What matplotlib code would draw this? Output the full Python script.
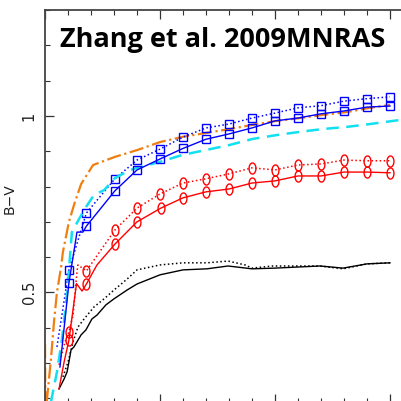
import matplotlib
matplotlib.use("Agg")
import matplotlib.pyplot as plt
from matplotlib.path import Path
from matplotlib.ticker import MultipleLocator, FixedLocator
import numpy as np

# age (x) and B-V (y) for each track
blk_x = [0.61, 0.83, 0.96, 1.04, 1.13, 1.26, 1.57, 1.78, 2.04, 2.26, 2.65, 3.0, 3.57, 4.0,
         5.0, 6.0, 7.04, 7.96, 9.0, 10.0, 10.96, 11.96, 12.96, 14.0, 15.0]
blk_y = [0.227, 0.255, 0.275, 0.303, 0.337, 0.346, 0.380, 0.394, 0.425, 0.436, 0.465, 0.482, 0.507, 0.524,
         0.550, 0.564, 0.567, 0.575, 0.567, 0.569, 0.572, 0.575, 0.569, 0.581, 0.584]

blkd_x = [0.78, 1.0, 1.22, 1.43, 1.70, 2.13, 2.57, 3.0, 3.57, 4.0, 5.0, 6.0, 7.04, 7.96, 8.7,
          9.0, 9.91, 10.96, 11.96, 12.96, 14.0, 15.0]
blkd_y = [0.261, 0.303, 0.360, 0.402, 0.425, 0.459, 0.482, 0.507, 0.538, 0.564, 0.578, 0.584, 0.584, 0.589, 0.578,
          0.569, 0.575, 0.575, 0.575, 0.567, 0.581, 0.584]

red_x = [0.61, 0.83, 1.04, 1.37, 1.61, 1.8, 2.26, 3.04, 4.0, 5.04, 6.0, 7.0, 8.0, 9.0, 10.0,
         11.0, 12.0, 13.0, 14.0, 15.0]
red_y = [0.227, 0.303, 0.365, 0.525, 0.504, 0.524, 0.578, 0.637, 0.700, 0.739, 0.768, 0.785, 0.793, 0.810, 0.816,
         0.830, 0.830, 0.841, 0.841, 0.839]
red_mk = [2, 5, 7, 8, 9, 10, 11, 12, 13, 14, 15, 16, 17, 18, 19]

redd_x = [0.61, 0.87, 1.04, 1.22, 1.30, 1.39, 1.43, 1.8, 3.04, 4.0, 5.0, 6.0, 7.0, 8.0, 9.0,
          10.0, 11.0, 12.0, 13.0, 14.0, 15.0]
redd_y = [0.295, 0.36, 0.388, 0.436, 0.493, 0.558, 0.578, 0.561, 0.677, 0.739, 0.779, 0.810, 0.822, 0.836, 0.853,
          0.847, 0.861, 0.864, 0.875, 0.873, 0.873]
redd_mk = [2, 7, 8, 9, 10, 11, 12, 13, 14, 15, 16, 17, 18, 19, 20]

blu_x = [0.65, 1.04, 1.39, 1.65, 1.8, 3.04, 4.0, 5.0, 6.0, 7.0, 8.0, 9.0, 10.0, 11.0, 12.0, 13.0, 14.0, 15.0]
blu_y = [0.289, 0.527, 0.671, 0.671, 0.688, 0.788, 0.847, 0.878, 0.908, 0.934, 0.949, 0.966, 0.986, 0.994,
         1.006, 1.014, 1.025, 1.028]
blu_mk = [1] + list(range(4, 18))

blud_x = [0.52, 1.04, 1.8, 3.04, 4.0, 5.0, 6.0, 7.0, 8.0, 9.0, 10.0, 11.0, 12.0, 13.0, 14.0, 15.0]
blud_y = [0.346, 0.564, 0.725, 0.822, 0.875, 0.906, 0.940, 0.966, 0.977, 0.994, 1.008, 1.023, 1.029,
          1.042, 1.049, 1.054]

cyn_x = [0.26, 0.52, 0.74, 0.91, 1.0, 1.17, 1.48, 1.78, 2.13, 2.57, 3.04, 3.7, 5.0, 6.0, 7.04, 8.04,
         9.04, 10.09, 11.09, 12.09, 13.13, 14.13, 15.48]
cyn_y = [0.19, 0.275, 0.368, 0.465, 0.530, 0.671, 0.708, 0.742, 0.776, 0.790, 0.824, 0.847, 0.870, 0.890,
         0.904, 0.918, 0.935, 0.946, 0.955, 0.963, 0.969, 0.977, 0.989]

org_x = [0.0, 0.02, 0.13, 0.26, 0.39, 0.52, 0.70, 0.78, 1.04, 1.30, 1.57, 2.09, 3.04, 4.04, 5.0, 6.0,
         6.74, 8.04, 9.04, 10.09, 11.09, 12.09, 13.13, 14.13, 15.0]
org_y = [0.354, 0.15, 0.227, 0.312, 0.416, 0.501, 0.572, 0.615, 0.700, 0.756, 0.807, 0.861, 0.884, 0.904,
         0.926, 0.941, 0.949, 0.963, 0.975, 0.986, 0.994, 1.003, 1.011, 1.023, 1.031]

# upright ellipse marker ("0" look)
t = np.linspace(0, 2 * np.pi, 40)
ell = Path(np.column_stack([0.62 * np.sin(t), np.cos(t)]))

fig = plt.figure(figsize=(4.01, 4.01), dpi=100)
ax = fig.add_axes([45 / 401, -2 / 401, 368 / 401, 393 / 401])

ax.plot(blk_x, blk_y, '-', color='black', lw=1.0)
ax.plot(blkd_x, blkd_y, ':', color='black', lw=1.1)
ax.plot(red_x, red_y, '-', color='red', lw=1.0, marker=ell, markevery=red_mk,
        ms=8, mfc='none', mec='red', mew=1.0)
ax.plot(redd_x, redd_y, ':', color='red', lw=1.1, marker=ell, markevery=redd_mk,
        ms=8, mfc='none', mec='red', mew=1.0)
ax.plot(org_x, org_y, '-.', color='#f07f10', lw=1.6)
ax.plot(blud_x, blud_y, ':', color='blue', lw=1.1, marker='s', markevery=list(range(1, 16)),
        ms=5.5, mfc='none', mec='blue', mew=1.0)
ax.plot(cyn_x, cyn_y, '--', color='#10e0f0', lw=1.8, dashes=(5, 3))
ax.plot(blu_x, blu_y, '-', color='blue', lw=1.0, marker='s', markevery=blu_mk,
        ms=5.5, mfc='none', mec='blue', mew=1.0)

ax.set_xlim(0, 16)
ax.set_ylim(0.187, 1.3)

ax.xaxis.set_major_locator(MultipleLocator(5))
ax.xaxis.set_minor_locator(MultipleLocator(1))
ax.yaxis.set_major_locator(FixedLocator([0.5, 1.0]))
ax.yaxis.set_minor_locator(MultipleLocator(0.1))
ax.set_yticklabels(['0.5', '1'], rotation=90, va='center')
ax.tick_params(axis='both', which='both', direction='in', top=True, right=True,
               color='#333333')
ax.tick_params(which='major', length=6.5, width=0.9)
ax.tick_params(which='minor', length=3.8, width=0.8)
ax.tick_params(axis='x', labelbottom=False)
ax.tick_params(axis='y', labelsize=10.5, pad=6, labelcolor='#222222')
for s in ax.spines.values():
    s.set_linewidth(1.3)
    s.set_color('#444444')

ax.set_ylabel('B\u2212V', fontsize=10, color='#222222')
ax.yaxis.set_label_coords(-0.076, 0.52)

fig.text(0.555, 1 - 47 / 401, 'Zhang et al. 2009MNRAS', family='Open Sans', weight='bold',
         fontsize=19.5, ha='center', va='baseline')

fig.savefig('out.png', dpi=100)
